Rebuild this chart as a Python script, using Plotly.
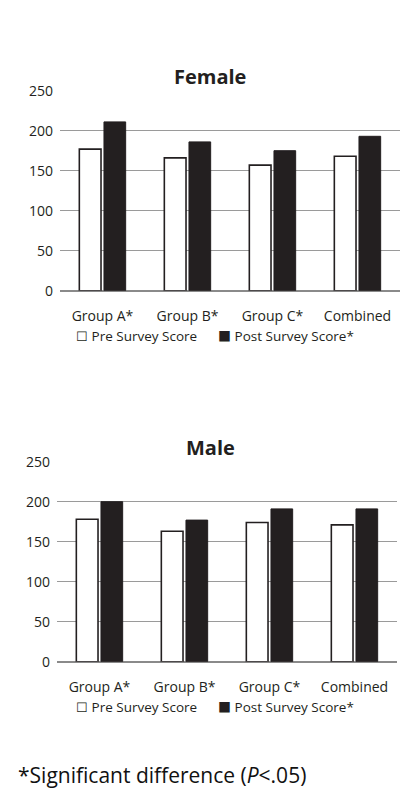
import plotly.graph_objects as go

# Survey scores by group, split by sex
categories = ["Group A*", "Group B*", "Group C*", "Combined"]
female_pre = [177, 166, 157, 168]
female_post = [211, 186, 175, 193]
male_pre = [178, 163, 174, 171]
male_post = [200, 177, 191, 191]
y_ticks = [0, 50, 100, 150, 200, 250]
pre_name = "Pre Survey Score"
post_name = "Post Survey Score*"
footnote = "*Significant difference (<i>P</i><.05)"

W, H = 401, 796
FONT = "Open Sans"
INK = "#231f20"
GRID = "#9a9a9a"


def px_x(p):
    return p / W


def px_y(p):
    return 1 - p / H


fig = go.Figure()

panels = [
    # (title, pre, post, xaxis, yaxis, left px, right px, top px, bottom px)
    ("Female", female_pre, female_post, "x", "y", 60, 400, 90.7, 290.7),
    ("Male", male_pre, male_post, "x2", "y2", 57, 397, 461.7, 661.7),
]

# key glyphs: hollow box for the pre score, solid box for the post score
GLYPH = '<span style="font-family:Noto Sans CJK JP;font-size:13px">%s</span>'
key_items = [
    (74, GLYPH % "\u2610", pre_name),
    (216, GLYPH % "\u25a0", post_name),
]

for i, (title, pre, post, xa, ya, l, r, t, b) in enumerate(panels):
    fig.add_trace(go.Bar(
        x=categories, y=pre, name=pre_name, xaxis=xa, yaxis=ya,
        marker=dict(color="white", line=dict(color=INK, width=1.6)),
    ))
    fig.add_trace(go.Bar(
        x=categories, y=post, name=post_name, xaxis=xa, yaxis=ya,
        marker=dict(color=INK, line=dict(color=INK, width=1)),
    ))
    sfx = "" if i == 0 else "2"
    fig.layout["xaxis" + sfx] = dict(
        domain=[px_x(l), px_x(r)], anchor=ya, showgrid=False, showline=False,
        ticks="", tickfont=dict(family=FONT, size=14, color=INK),
        ticklabelstandoff=15, fixedrange=True, automargin=False,
    )
    fig.layout["yaxis" + sfx] = dict(
        domain=[px_y(b), px_y(t)], anchor=xa, range=[0, 250],
        tickvals=y_ticks, showgrid=True, gridcolor=GRID, gridwidth=1.2,
        zeroline=True, zerolinecolor="#8a8a8a", zerolinewidth=1.6,
        showline=False, ticks="", ticklabelstandoff=6, automargin=False,
        tickfont=dict(family=FONT, size=14, color=INK), fixedrange=True,
    )
    # panel title
    fig.add_annotation(
        text="<b>%s</b>" % title, xref="paper", yref="paper",
        x=px_x(210), y=px_y(t - 14), xanchor="center", yanchor="middle",
        showarrow=False, font=dict(family=FONT, size=20, color=INK),
    )
    # key row under the category labels
    for kx, glyph, name in key_items:
        fig.add_annotation(
            text="%s %s" % (glyph, name), xref="paper", yref="paper",
            x=px_x(kx), y=px_y(b + 45), xanchor="left", yanchor="middle",
            showarrow=False, font=dict(family=FONT, size=13.5, color=INK),
        )

fig.add_annotation(
    text=footnote, xref="paper", yref="paper", x=px_x(16), y=px_y(775),
    xanchor="left", yanchor="middle", showarrow=False,
    font=dict(family=FONT, size=21, color="#111"),
)

fig.update_layout(
    width=W, height=H, margin=dict(l=0, r=0, t=0, b=0),
    paper_bgcolor="white", plot_bgcolor="white",
    barmode="group", bargap=0.42, bargroupgap=0.12,
    showlegend=False,
)

fig.write_html("out.html", config=dict(displayModeBar=False))
